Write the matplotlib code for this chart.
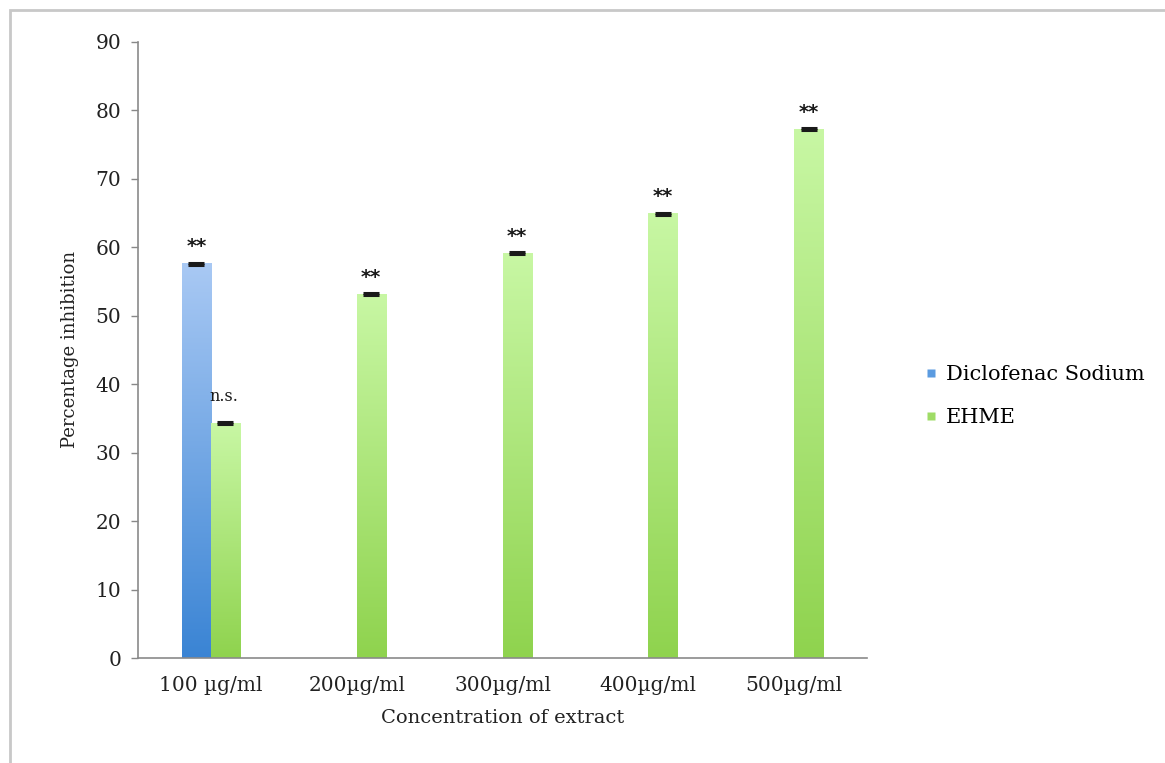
import numpy as np
import matplotlib
matplotlib.use("Agg")
import matplotlib.pyplot as plt
from matplotlib.colors import LinearSegmentedColormap
from matplotlib.lines import Line2D
from matplotlib.patches import Rectangle

# Data
categories = ["100 µg/ml", "200µg/ml", "300µg/ml", "400µg/ml", "500µg/ml"]
diclofenac = [57.6, np.nan, np.nan, np.nan, np.nan]
ehme = [34.3, 53.1, 59.1, 64.9, 77.2]
diclofenac_err = [0.15, 0, 0, 0, 0]
ehme_err = [0.15, 0.15, 0.15, 0.15, 0.15]
diclofenac_sig = ["**", "", "", "", ""]
ehme_sig = ["n.s.", "**", "**", "**", "**"]

serif = ["DejaVu Serif"]
plt.rcParams["font.family"] = serif

W, H = 1165, 763
fig = plt.figure(figsize=(W / 100, H / 100), dpi=100)
ax = fig.add_axes([138 / W, 1 - 658 / H, (867 - 138) / W, (658 - 41.7) / H])

blue_cmap = LinearSegmentedColormap.from_list("b", ["#3a84d4", "#a9c9f4"])
green_cmap = LinearSegmentedColormap.from_list("g", ["#8fd34e", "#c8f7a4"])

x = np.arange(len(categories))
width = 0.2


def gradient_bars(xs, vals, cmap):
    grad = np.linspace(0, 1, 256).reshape(-1, 1)
    for xc, v in zip(xs, vals):
        if np.isnan(v):
            continue
        ax.imshow(grad, cmap=cmap, origin="lower", aspect="auto",
                  extent=[xc - width / 2, xc + width / 2, 0, v], zorder=2)


xb = x - width / 2
xg = x + width / 2
gradient_bars(xb, diclofenac, blue_cmap)
gradient_bars(xg, ehme, green_cmap)

# error caps
for xs, vals, errs in [(xb, diclofenac, diclofenac_err), (xg, ehme, ehme_err)]:
    for xc, v, e in zip(xs, vals, errs):
        if np.isnan(v):
            continue
        ax.errorbar(xc, v, yerr=e, fmt="none", ecolor="#1a1a1a",
                    elinewidth=2, capsize=6, capthick=2.2, zorder=3)

# significance labels
for xs, vals, sigs in [(xb, diclofenac, diclofenac_sig), (xg, ehme, ehme_sig)]:
    for xc, v, s in zip(xs, vals, sigs):
        if not s or np.isnan(v):
            continue
        if s == "**":
            ax.annotate(s, (xc, v), xytext=(0, 12), textcoords="offset points",
                        ha="center", va="center", fontsize=14, fontweight="bold",
                        color="#1a1a1a", family=["DejaVu Sans"])
        else:
            ax.annotate(s, (xc, v), xytext=(-1, 19), textcoords="offset points",
                        ha="center", va="center", fontsize=11.5, color="#1a1a1a")

ax.set_xlim(-0.5, len(categories) - 0.5)
ax.set_ylim(0, 90)
ax.set_yticks(np.arange(0, 91, 10))
ax.set_xticks(x)
ax.set_xticklabels(categories, fontsize=14.5, color="#222222")
ax.tick_params(axis="x", length=0, pad=13)
ax.tick_params(axis="y", length=5, width=1, color="#888888", labelsize=14.5,
               labelcolor="#222222", pad=7)
for s in ["top", "right"]:
    ax.spines[s].set_visible(False)
for s in ["left", "bottom"]:
    ax.spines[s].set_color("#8a8a8a")
    ax.spines[s].set_linewidth(1.2)

ax.set_xlabel("Concentration of extract", fontsize=14, color="#222222", labelpad=10)
ax.set_ylabel("Percentage inhibition", fontsize=13, color="#222222", labelpad=12)

handles = [
    Line2D([], [], marker="s", linestyle="none", markersize=6,
           markerfacecolor="#5b9be0", markeredgecolor="none"),
    Line2D([], [], marker="s", linestyle="none", markersize=6,
           markerfacecolor="#9fdc66", markeredgecolor="none"),
]
fig.legend(handles, ["Diclofenac Sodium", "EHME"], loc="center left",
           bbox_to_anchor=(906 / W, 1 - 396 / H), frameon=False,
           fontsize=15, handlelength=0.6, handletextpad=0.4, labelspacing=1.15)

# outer frame
fig.patches.append(Rectangle((10 / W, -0.1), 1.2, 1 - 10 / H + 0.1,
                             transform=fig.transFigure, fill=False,
                             edgecolor="#c8c8c8", linewidth=2))

fig.savefig("out.png", dpi=100)
